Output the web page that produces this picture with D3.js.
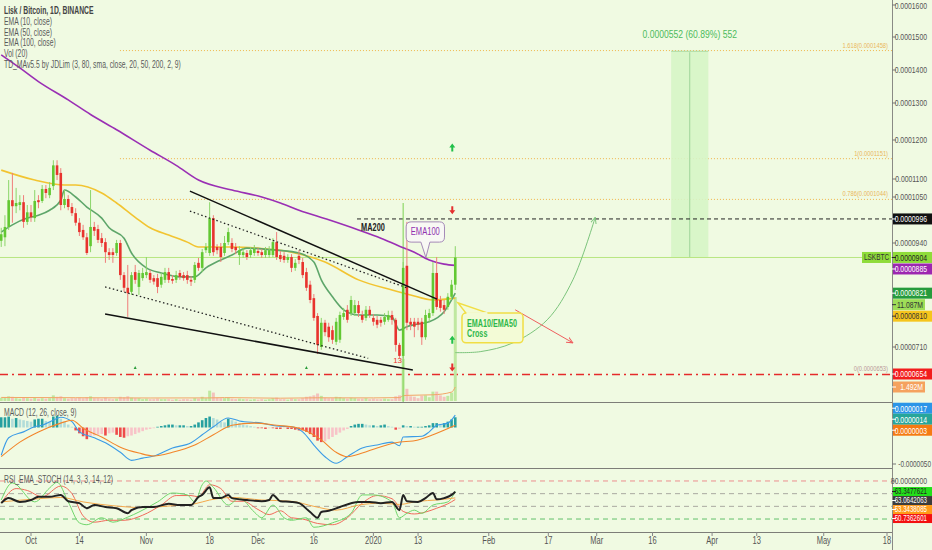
<!DOCTYPE html>
<html>
<head>
<meta charset="utf-8">
<script src="https://cdn.jsdelivr.net/npm/d3@7"></script>
<style>
	html, body { margin:0; padding:0; background:#f0fae2; }
	svg { display:block; font-family:"Liberation Sans",Arial,sans-serif; }
</style>
</head>
<body>
<svg id="chart" width="932" height="550"></svg>
<script>
// daily LSK/BTC candles, prices in units of 1e-7 BTC, first candle 2019-09-23
var startDay = Date.UTC(2019, 8, 23);

var opens = [945,953,977,1042,1027,1030,1037,989,1012,998, 1042,1040,1072,1055,1080,1134,1115,1030,1045,1025,
	1010,987,970,953,932,977,972,951,942,917, 917,915,940,862,833,824,869,835,855,862,
	867,855,855,840,851,869,853,851,867,862, 862,851,851,891,879,922,915,998,930,930,
	915,942,940,930,910,910,915,910,915,920, 917,910,910,910,942,910,908,898,905,879,
	908,893,869,840,810,772,710,758,750,743, 720,724,770,785,778,778,795,774,768,785,
	768,764,764,760,764,774,764,714,691,884, 760,760,760,760,729,768,778,867,806,795,
	791,813,840];
var highs = [975,1005,1097,1115,1075,1055,1055,1030,1030,1069, 1055,1083,1083,1091,1147,1147,1127,1069,1055,1035,
	1022,998,982,963,1069,989,982,963,951,927, 927,947,947,869,886,869,886,874,879,905,
	874,862,865,867,879,879,862,872,874,869, 872,860,893,903,925,940,1037,1005,937,940,
	956,975,951,940,932,927,922,930,935,927, 925,930,932,951,965,920,917,912,912,900,
	922,903,879,849,819,778,768,764,758,752, 768,781,789,795,815,806,804,783,793,793,
	776,772,770,778,783,783,768,718,893,989, 768,768,768,768,785,787,893,905,815,806,
	821,851,932];
var lows = [930,932,970,987,1010,1017,975,982,989,989, 1022,1035,1047,1047,1069,1097,1017,1022,1017,1003,
	980,956,947,910,917,956,940,930,891,898, 891,908,851,824,770,817,842,817,849,855,
	844,840,821,833,844,844,842,844,851,849, 842,837,844,872,869,915,908,908,912,893,
	908,935,917,912,886,903,898,903,908,908, 903,903,903,905,898,893,891,891,869,872,
	888,855,826,799,762,695,704,731,720,716, 714,718,764,758,772,772,770,758,762,768,
	752,747,750,754,760,754,700,686,686,743, 743,729,743,714,724,760,772,785,781,776,
	785,806,828];
var closes = [960,977,1042,1027,1035,1037,989,1012,1000,1040, 1037,1072,1061,1075,1134,1110,1030,1045,1025,1010,
	987,965,953,915,977,968,947,940,917,910, 910,940,862,833,821,862,851,867,867,869,
	851,847,835,858,869,851,849,862,858,855, 851,847,886,879,917,930,998,917,922,905,
	940,965,925,922,922,917,905,922,925,915, 910,922,922,942,905,900,898,905,879,891,
	898,862,833,806,768,714,758,739,729,724, 760,774,778,764,806,795,778,764,785,774,
	760,754,758,770,774,764,714,691,879,758, 754,750,754,729,774,778,867,791,789,785,
	813,840,904];

// volume in millions of LSK
var volumes = [0.35,0.4,0.5,0.45,0.3,0.25,0.4,0.3,0.25,0.35, 0.25,0.3,0.25,0.3,0.6,0.45,0.5,0.3,0.25,0.3,
	0.3,0.35,0.3,0.4,0.5,0.3,0.3,0.25,0.35,0.25, 0.2,0.25,0.45,0.4,0.5,0.35,0.3,0.3,0.2,0.25,
	0.2,0.2,0.25,0.2,0.2,0.2,0.15,0.2,0.15,0.2, 0.2,0.15,0.3,0.25,0.45,0.3,1.1,0.9,0.35,0.3,
	0.3,0.35,0.25,0.2,0.25,0.2,0.2,0.15,0.2,0.15, 0.2,0.15,0.2,0.3,0.35,0.2,0.2,0.15,0.25,0.2,
	0.2,0.3,0.45,0.5,0.6,0.8,0.55,0.35,0.3,0.3, 0.45,0.4,0.3,0.25,0.35,0.3,0.25,0.25,0.3,0.2,
	0.25,0.2,0.2,0.25,0.2,0.2,0.5,0.6,4.5,1.3, 0.5,0.45,0.3,0.55,0.6,0.4,1.0,1.0,0.6,0.45,
	0.55,0.9,11.087];
var volMaDays = [0,20,40,56,60,75,85,100,107,108,109,116,121,122];
var volMaValues = [0.38,0.35,0.32,0.33,0.36,0.3,0.34,0.33,0.36,0.56,0.6,0.66,0.95,1.492];

// moving averages
var ema10Days = [0,3,7,10,13,16,17,20,23,27,29,33,35,39,43,48,52,55,59,62,66,74,80,84,86,89,92,96,101,105,107,109,111,115,119,122];
var ema10Values = [965,982,998,1005,1017,1042,1069,1050,1025,998,975,951,915,879,867,858,858,879,898,910,927,922,915,893,851,813,785,774,774,770,743,750,754,760,781,821];
var ema50Days = [0,9,17,20,27,31,36,40,45,50,53,62,69,78,87,96,105,110,116,122];
var ema50Values = [1122,1097,1083,1083,1061,1035,1000,975,958,942,930,930,927,917,893,851,828,817,806,810];
var ema100Days = [0,5,10,18,24,31,40,47,53,62,70,75,80,88,96,102,107,111,115,119,122];
var ema100Values = [1445,1406,1364,1309,1268,1227,1173,1134,1097,1069,1050,1035,1017,994,970,951,932,917,898,888,885];

// MACD (units of 1e-7)
var macdDays = [0,2,6,9,11,14,16,19,21,25,28,32,35,38,41,46,51,54,57,61,64,70,74,78,81,84,87,90,93,97,101,105,107,108,113,115,117,120,122];
var macdValues = [-38,-14,-6,1,3,10,14,8,-6,-14,-21,-34,-45,-42,-39,-28,-21,-10,1,13,9,6,2,1,-6,-24,-40,-49,-40,-28,-24,-20,-25,-13,-12,-6,3,6,17];
var signalDays = [0,5,10,16,19,22,27,32,37,41,46,52,57,62,68,74,80,86,90,93,97,101,106,112,116,122];
var signalValues = [-40,-20,-6,6,10,-1,-13,-27,-35,-39,-34,-24,-10,3,6,3,-1,-17,-34,-40,-35,-28,-21,-17,-10,3];
var macdHist = [14,14,15,12,13,11,10,9,8,11, 12,12,9,8,15,16,12,8,4,1,
	-4,-8,-12,-16,-12,-11,-10,-9,-11,-8, -7,-10,-13,-14,-12,-11,-9,-7,-5,-3,
	-2,-1,1,2,3,4,4,3,3,3, 2,2,4,7,10,13,15,13,11,8,
	7,12,10,8,6,4,3,2,1,-1, -1,-2,-1,-1,-2,-2,-1,-2,-2,-3,
	-4,-4,-6,-9,-13,-18,-20,-19,-16,-13, -10,-7,-4,-2,2,4,5,5,4,3,
	3,2,3,4,2,1,-3,-2,3,2, 2,1,1,1,2,3,6,6,5,6,
	8,11,14];

// RSI_EMA_STOCH
var rsiDays = [0,2,5,8,10,13,16,18,21,23,25,28,31,34,35,38,41,45,48,51,53,54,56,57,59,61,62,66,70,72,73,75,78,80,83,85,86,88,91,94,96,99,102,105,107,108,109,112,114,116,117,119,121,122];
var rsiValues = [45,53,47,50,55,55,58,48,45,37,42,39,37,29,34,39,39,44,42,42,55,58,70,53,53,58,53,50,48,50,58,48,47,45,31,22,31,33,39,45,47,47,45,47,34,58,48,47,53,61,51,53,58,63.0642063];
var kDays = [0,3,9,13,15,18,21,23,27,30,34,37,42,46,50,52,54,55,57,61,64,68,70,73,76,78,82,84,89,94,97,100,105,107,109,111,113,116,120,122];
var kValues = [50,77,47,69,78,47,14,11,22,15,23,31,47,61,58,47,74,80,70,42,53,31,22,42,22,18,22,7,14,29,58,58,47,22,29,34,29,42,47,63.3477621];
var dDays = [0,4,7,11,16,19,22,25,29,33,38,43,47,51,53,56,59,62,65,69,72,75,78,81,85,89,93,97,101,105,108,111,114,117,120,122];
var dValues = [45,68,65,55,72,60,25,15,18,18,26,42,57,57,55,74,68,48,48,35,27,33,22,20,13,11,22,45,57,52,32,28,31,37,44,50.7362601];
var rsiEmaDays = [0,10,16,22,30,38,46,52,56,62,70,78,84,90,96,102,107,112,117,122];
var rsiEmaValues = [47,52,54,47,41,38,41,44,50,54,50,48,40,34,42,45,43,48,50,53.3438085];
var rsiLevels = [80,60,40,20];

// axes
var priceTicks = [1600,1500,1400,1300,1200,1100,1050,940,710];
var timeTickDates = ["2019-10-01","2019-10-14","2019-11-01","2019-11-18","2019-12-01","2019-12-16","2020-01-01","2020-01-13",
	"2020-02-01","2020-02-17","2020-03-01","2020-03-16","2020-04-01","2020-04-13","2020-05-01","2020-05-18"];
var timeTickLabels = ["Oct","14","Nov","18","Dec","16","2020","13","Feb","17","Mar","16","Apr","13","May","18"];

// drawings (day index from first candle, price)
var fibRatios = ["1.618","1","0.786","0"];
var fibPrices = [1458,1151,1044,653];
var fibStartDay = 31.9;
var resistancePrice = 996, resistanceStartDay = 95.6;
var wedgeUpper = [[50.7,1066],[117.1,808]];
var wedgeLower = [[27.9,776],[110.6,662]];
var channelUpper = [[50.7,1015],[109,833]];
var channelLower = [[27.9,835],[98.6,686]];
var targetDays = [180,190], targetPrices = [904,1456];
var targetText = "0.0000552 (60.89%) 552";
var bullPath = [[122,698],[128.7,700],[137.5,718],[146.7,764],[153.6,851],[159.6,1000]];
var bearPath = [[138.1,785],[153.6,718]];
var crossBoxDays = [123.8,140.2], crossBoxPrices = [778,718], crossTip = [122.7,800];
var emaBoxDays = [108.8,119.1], emaBoxPrices = [989,942], emaTip = [114.1,904];
var ma200Label = [96.7,975];
var breakoutDay = 108, breakoutTop = 1035;
var tdArrowPrices = [1180,1017,724,667];
var tdArrowUp = [true,false,true,false];
var setupMarkDays = [36,82], setupMarkPrice = 665;
var countLabel = [106.5,682,"13"];

var priceLabelValues = [996,904,885,821,810,654];
var volLabelValues = [11.087,1.492];
var macdLabelValues = [17,14,3];
var rsiLabelValues = [63.3477621,63.0642063,53.3438085,50.7362601];

var legendLines = ["Lisk / Bitcoin, 1D, BINANCE","EMA (10, close)","EMA (50, close)","EMA (100, close)","Vol (20)",
	"TD_MAv5.5 by JDLim (3, 80, sma, close, 20, 50, 200, 2, 9)"];

(function ()
{
	var svg = d3.select("#chart");
	var axisX = 892;
	var labelRight = 927;
	var bg = "#f0fae2";

	// the TradingView font is much narrower than anything installed
	var condense = function(sel, f)
	{
		sel.each(function()
		{
			var w = this.getComputedTextLength();
			d3.select(this).attr("textLength", w * f).attr("lengthAdjust","spacingAndGlyphs");
		});
	};

	var dayDate = function(i)
	{
		return new Date(startDay + i * 864e5);
	};

	var x = d3.scaleUtc()
		.domain([new Date(Date.UTC(2019,9,1)), new Date(Date.UTC(2020,4,18))])
		.range([31, 887]);
	var xi = function(i) { return x(dayDate(i)); };

	var y = d3.scaleLog()
		.domain([600,654,710,940,1050,1100,1200,1300,1400,1500,1600])
		.range([398,374,347,243,197,179,140,103,70,37,5]);
	var yVol = d3.scaleLinear().domain([0, 11.087]).range([401, 297]);
	var yMacd = d3.scaleLinear().domain([-50, 20]).range([464, 412.9]);
	var yRsi = d3.scaleLinear().domain([0, 100]).range([531.7, 468.3]);

	var fmt = function(v) { return (v * 1e-7).toFixed(7); };

	svg.append("rect").attr("width",932).attr("height",550).attr("fill",bg);

	var defs = svg.append("defs");
	defs.append("clipPath").attr("id","mainClip").append("rect").attr("x",0).attr("y",0).attr("width",axisX).attr("height",402);
	defs.append("clipPath").attr("id","macdClip").append("rect").attr("x",0).attr("y",403).attr("width",axisX).attr("height",65);
	defs.append("clipPath").attr("id","rsiClip").append("rect").attr("x",0).attr("y",469).attr("width",axisX).attr("height",63);
	[["headGreen","#7cc47c"],["headRed","#ef5f5f"]].forEach(function(m)
	{
		defs.append("marker")
			.attr("id",m[0])
			.attr("viewBox","0 0 10 10")
			.attr("refX",9).attr("refY",5)
			.attr("markerWidth",7).attr("markerHeight",7)
			.attr("orient","auto")
			.append("path")
			.attr("d","M0,1 L9,5 L0,9")
			.attr("fill","none")
			.attr("stroke",m[1])
			.attr("stroke-width",1.4);
	});

	var main = svg.append("g").attr("clip-path","url(#mainClip)");

	// fib levels
	main.selectAll("line.fib").data(fibPrices.slice(0,3)).enter().append("line").classed("fib",1)
		.attr("x1",xi(fibStartDay)).attr("x2",axisX)
		.attr("y1",function(d) { return y(d); }).attr("y2",function(d) { return y(d); })
		.attr("stroke","#efb54a").attr("stroke-width",1).attr("stroke-dasharray","1,2");
	var fibText = main.selectAll("text.fib").data(fibPrices).enter().append("text").classed("fib",1)
		.text(function(d,i) { return fibRatios[i] + "(" + fmt(d) + ")"; })
		.attr("x",888).attr("y",function(d) { return y(d) - 3; })
		.attr("text-anchor","end")
		.attr("font-size","8px")
		.attr("fill",function(d,i) { return i === 3 ? "#b99" : "#eab65a"; });
	condense(fibText, 0.72);

	// target measure box
	main.append("rect")
		.attr("x",xi(targetDays[0])).attr("width",xi(targetDays[1]) - xi(targetDays[0]))
		.attr("y",y(targetPrices[1])).attr("height",y(targetPrices[0]) - y(targetPrices[1]))
		.attr("fill","#d6f5c6").attr("opacity",0.9);
	main.append("line")
		.attr("x1",xi(targetDays[0])).attr("x2",xi(targetDays[1]))
		.attr("y1",y(targetPrices[1])).attr("y2",y(targetPrices[1]))
		.attr("stroke","#a9d9a0");
	main.append("line")
		.attr("x1",xi((targetDays[0] + targetDays[1]) / 2)).attr("x2",xi((targetDays[0] + targetDays[1]) / 2))
		.attr("y1",y(targetPrices[0])).attr("y2",y(targetPrices[1]) + 1)
		.attr("stroke","#9fd49a").attr("stroke-width",1);
	condense(main.append("text")
		.text(targetText)
		.attr("x",xi((targetDays[0] + targetDays[1]) / 2)).attr("y",y(targetPrices[1]) - 13)
		.attr("text-anchor","middle")
		.attr("font-size","11px")
		.attr("fill","#4cba5c"), 0.78);

	// last price, resistance and support lines
	main.append("line")
		.attr("x1",0).attr("x2",axisX)
		.attr("y1",y(closes[closes.length - 1])).attr("y2",y(closes[closes.length - 1]))
		.attr("stroke","#b8e680").attr("stroke-width",1);
	main.append("line")
		.attr("x1",xi(resistanceStartDay)).attr("x2",axisX)
		.attr("y1",y(resistancePrice)).attr("y2",y(resistancePrice))
		.attr("stroke","#222").attr("stroke-dasharray","4,3");
	main.append("line")
		.attr("x1",0).attr("x2",axisX)
		.attr("y1",y(fibPrices[3])).attr("y2",y(fibPrices[3]))
		.attr("stroke","#e52b2b").attr("stroke-width",1.6).attr("stroke-dasharray","8,4,2,4");

	// volume
	main.selectAll("rect.vol").data(volumes).enter().append("rect").classed("vol",1)
		.attr("x",function(d,i) { return xi(i) - 1.5; })
		.attr("width",3)
		.attr("y",function(d) { return yVol(d); })
		.attr("height",function(d) { return yVol(0) - yVol(d); })
		.attr("fill",function(d,i) { return closes[i] >= opens[i] ? "#bfe8a0" : "#f4c2bd"; });
	main.append("path")
		.datum(volMaDays)
		.attr("d",d3.line().x(function(d) { return xi(d); }).y(function(d,i) { return yVol(volMaValues[i]); }).curve(d3.curveMonotoneX))
		.attr("fill","none").attr("stroke","#f3a566").attr("stroke-width",1);

	// breakout marker line
	main.append("line")
		.attr("x1",xi(breakoutDay)).attr("x2",xi(breakoutDay))
		.attr("y1",y(breakoutTop)).attr("y2",402)
		.attr("stroke","#8fd86a").attr("stroke-width",1.2);

	// moving averages
	var maLine = function(days, values)
	{
		return d3.line()
			.x(function(d) { return xi(d); })
			.y(function(d,i) { return y(values[i]); })
			.curve(d3.curveMonotoneX)(days);
	};
	[[ema100Days,ema100Values,"#9a2fb4"],[ema50Days,ema50Values,"#f2c431"],[ema10Days,ema10Values,"#5ea66a"]].forEach(function(m)
	{
		main.append("path")
			.attr("d",maLine(m[0],m[1]))
			.attr("fill","none").attr("stroke",m[2]).attr("stroke-width",1.6);
	});

	// candles
	var candles = main.selectAll("g.candle").data(closes).enter().append("g").classed("candle",1);
	candles.append("line")
		.attr("x1",function(d,i) { return xi(i); }).attr("x2",function(d,i) { return xi(i); })
		.attr("y1",function(d,i) { return y(highs[i]); }).attr("y2",function(d,i) { return y(lows[i]); })
		.attr("stroke",function(d,i) { return d >= opens[i] ? "#8bd56a" : "#f07d7a"; })
		.attr("stroke-width",1);
	candles.append("rect")
		.attr("x",function(d,i) { return xi(i) - 1.3; })
		.attr("width",2.6)
		.attr("y",function(d,i) { return Math.min(y(opens[i]), y(d)); })
		.attr("height",function(d,i) { return Math.max(1, Math.abs(y(opens[i]) - y(d))); })
		.attr("fill",function(d,i) { return d >= opens[i] ? "#62c832" : "#e8332e"; });

	// wedge and channel
	var seg = function(pts) { return d3.line().x(function(d) { return xi(d[0]); }).y(function(d) { return y(d[1]); })(pts); };
	[wedgeUpper, wedgeLower].forEach(function(p)
	{
		main.append("path").attr("d",seg(p)).attr("stroke","#111").attr("stroke-width",1.5).attr("fill","none");
	});
	[channelUpper, channelLower].forEach(function(p)
	{
		main.append("path").attr("d",seg(p)).attr("stroke","#222").attr("stroke-width",1.3).attr("stroke-dasharray","1.5,2.5").attr("fill","none");
	});

	// projection arrows
	main.append("path")
		.attr("d",d3.line().x(function(d) { return xi(d[0]); }).y(function(d) { return y(d[1]); }).curve(d3.curveCatmullRom)(bullPath))
		.attr("fill","none").attr("stroke","#7cc47c").attr("stroke-width",1)
		.attr("marker-end","url(#headGreen)");
	main.append("path")
		.attr("d",seg(bearPath))
		.attr("fill","none").attr("stroke","#ef5f5f").attr("stroke-width",1)
		.attr("marker-end","url(#headRed)");

	// EMA10/EMA50 cross callout
	var cx0 = xi(crossBoxDays[0]), cx1 = xi(crossBoxDays[1]), cy0 = y(crossBoxPrices[0]), cy1 = y(crossBoxPrices[1]);
	main.append("path")
		.attr("d","M" + (cx0 + 4) + "," + cy0 + " L" + xi(crossTip[0]) + "," + y(crossTip[1]) + " L" + (cx0 + 26) + "," + cy0)
		.attr("fill","#f3fbd6").attr("stroke","#f1de45").attr("stroke-width",1.5);
	main.append("rect")
		.attr("x",cx0).attr("y",cy0).attr("width",cx1 - cx0).attr("height",cy1 - cy0)
		.attr("rx",4)
		.attr("fill","#f3fbd6").attr("stroke","#f1de45").attr("stroke-width",1.5);
	main.append("rect")
		.attr("x",cx0 + 4.5).attr("y",cy0 - 1).attr("width",21).attr("height",3)
		.attr("fill","#f3fbd6");
	condense(main.append("text").text("EMA10/EMA50")
		.attr("x",cx0 + 5).attr("y",cy0 + 14)
		.attr("font-size","10px").attr("font-weight","bold").attr("fill","#2fb84a"), 0.72);
	condense(main.append("text").text("Cross")
		.attr("x",cx0 + 5).attr("y",cy0 + 24)
		.attr("font-size","10px").attr("font-weight","bold").attr("fill","#2fb84a"), 0.72);

	// EMA100 callout
	var ex0 = xi(emaBoxDays[0]), ex1 = xi(emaBoxDays[1]), ey0 = y(emaBoxPrices[0]), ey1 = y(emaBoxPrices[1]);
	var etx = xi(emaTip[0]), ety = y(emaTip[1]), r = 5;
	main.append("path")
		.attr("d","M" + (ex0 + r) + "," + ey0 + " H" + (ex1 - r) + " Q" + ex1 + "," + ey0 + " " + ex1 + "," + (ey0 + r)
			+ " V" + (ey1 - r) + " Q" + ex1 + "," + ey1 + " " + (ex1 - r) + "," + ey1
			+ " H" + (etx + 4) + " L" + etx + "," + ety + " L" + (etx - 5) + "," + ey1
			+ " H" + (ex0 + r) + " Q" + ex0 + "," + ey1 + " " + ex0 + "," + (ey1 - r)
			+ " V" + (ey0 + r) + " Q" + ex0 + "," + ey0 + " " + (ex0 + r) + "," + ey0 + " Z")
		.attr("fill","#f8f8f4").attr("stroke","#a58ab8").attr("stroke-width",1);
	condense(main.append("text").text("EMA100")
		.attr("x",(ex0 + ex1) / 2).attr("y",(ey0 + ey1) / 2 + 3.5)
		.attr("text-anchor","middle")
		.attr("font-size","10.5px").attr("fill","#9130b0"), 0.72);

	condense(main.append("text").text("MA200")
		.attr("x",xi(ma200Label[0])).attr("y",y(ma200Label[1]) + 3.5)
		.attr("font-size","10.5px").attr("font-weight","bold").attr("fill","#222"), 0.7);

	// TD arrows on the last candle
	var lastDay = closes.length - 1;
	tdArrowPrices.forEach(function(p,k)
	{
		var ax = xi(lastDay) - 3, ay = y(p), s = tdArrowUp[k] ? -1 : 1;
		main.append("path")
			.attr("d","M" + ax + "," + (ay + 4 * s) + " L" + (ax - 3) + "," + ay + " L" + (ax - 1) + "," + ay
				+ " L" + (ax - 1) + "," + (ay - 4 * s) + " L" + (ax + 1) + "," + (ay - 4 * s)
				+ " L" + (ax + 1) + "," + ay + " L" + (ax + 3) + "," + ay + " Z")
			.attr("fill",tdArrowUp[k] ? "#22c04a" : "#e53030");
	});
	main.selectAll("path.setup").data(setupMarkDays).enter().append("path").classed("setup",1)
		.attr("d",function(d) { var px = xi(d), py = y(setupMarkPrice) - 1; return "M" + (px - 1.5) + "," + (py + 1.5) + " L" + px + "," + (py - 1.5) + " L" + (px + 1.5) + "," + (py + 1.5) + " Z"; })
		.attr("fill","#2a9d3a");
	main.append("text").text(countLabel[2])
		.attr("x",xi(countLabel[0])).attr("y",y(countLabel[1]) + 3)
		.attr("text-anchor","middle")
		.attr("font-size","8px").attr("fill","#e33");

	// legend
	condense(svg.selectAll("text.legend").data(legendLines).enter().append("text").classed("legend",1)
		.text(function(d) { return d; })
		.attr("x",4)
		.attr("y",function(d,i) { return 14 + i * 10.8; })
		.attr("font-size","10px")
		.attr("font-weight",function(d,i) { return i === 0 ? "bold" : "normal"; })
		.attr("fill",function(d,i) { return i === 0 ? "#444" : "#5a5a5a"; }), 0.68);

	// MACD pane
	var macd = svg.append("g").attr("clip-path","url(#macdClip)");
	macd.selectAll("rect.hist").data(macdHist).enter().append("rect").classed("hist",1)
		.attr("x",function(d,i) { return xi(i) - 1.3; })
		.attr("width",2.6)
		.attr("y",function(d) { return Math.min(yMacd(d), yMacd(0)); })
		.attr("height",function(d) { return Math.abs(yMacd(d) - yMacd(0)); })
		.attr("fill",function(d,i)
		{
			var prev = i > 0 ? macdHist[i - 1] : d;
			if (d >= 0) return d >= prev ? "#26a0a0" : "#b2dcd9";
			return d <= prev ? "#ef4a4a" : "#f8c3c8";
		});
	[[macdDays,macdValues,"#3a9be6"],[signalDays,signalValues,"#f2852a"]].forEach(function(m)
	{
		macd.append("path")
			.attr("d",d3.line().x(function(d) { return xi(d); }).y(function(d,i) { return yMacd(m[1][i]); }).curve(d3.curveMonotoneX)(m[0]))
			.attr("fill","none").attr("stroke",m[2]).attr("stroke-width",1.1);
	});
	condense(svg.append("text").text("MACD (12, 26, close, 9)")
		.attr("x",4).attr("y",416).attr("font-size","10px").attr("fill","#5a5a5a"), 0.68);

	// RSI pane
	var rsi = svg.append("g").attr("clip-path","url(#rsiClip)");
	rsi.selectAll("line.level").data(rsiLevels).enter().append("line").classed("level",1)
		.attr("x1",0).attr("x2",axisX)
		.attr("y1",function(d) { return yRsi(d); }).attr("y2",function(d) { return yRsi(d); })
		.attr("stroke",function(d) { return d === 80 ? "#ec8f8f" : d === 20 ? "#62c06a" : "#a9a9a0"; })
		.attr("stroke-width",1).attr("stroke-dasharray","5,4");
	[[dDays,dValues,"#f06a5a",1],[kDays,kValues,"#6fd66a",1],[rsiEmaDays,rsiEmaValues,"#f5a84a",1],[rsiDays,rsiValues,"#222",2]].forEach(function(m)
	{
		rsi.append("path")
			.attr("d",d3.line().x(function(d) { return xi(d); }).y(function(d,i) { return yRsi(m[1][i]); }).curve(d3.curveMonotoneX)(m[0]))
			.attr("fill","none").attr("stroke",m[2]).attr("stroke-width",m[3]);
	});
	condense(svg.append("text").text("RSI_EMA_STOCH (14, 3, 3, 14, 12)")
		.attr("x",4).attr("y",483).attr("font-size","10px").attr("fill","#5a5a5a"), 0.68);

	// pane borders and price axis
	[402.5, 468.5, 532.5].forEach(function(py)
	{
		svg.append("line").attr("x1",0).attr("x2",axisX).attr("y1",py).attr("y2",py).attr("stroke","#7d7d78").attr("stroke-width",1);
	});
	svg.append("line").attr("x1",axisX + 0.5).attr("x2",axisX + 0.5).attr("y1",0).attr("y2",550).attr("stroke","#8a8a85");

	var axisG = svg.append("g");
	var tickRows = priceTicks.map(function(v) { return {y: y(v), text: fmt(v)}; })
		.concat([{y: yMacd(-50), text: fmt(-50)}, {y: yRsi(80), text: "80.0000000"}]);
	axisG.selectAll("g.tick").data(tickRows).enter().append("g").classed("tick",1)
		.each(function(d)
		{
			var g = d3.select(this);
			var neg = d.text.charAt(0) === "-";
			g.append("line").attr("x1",axisX).attr("x2",axisX + 4).attr("y1",d.y).attr("y2",d.y).attr("stroke","#777");
			condense(g.append("text").text(d.text)
				.attr("x",neg ? 931 : labelRight).attr("text-anchor","end")
				.attr("y",Math.max(d.y + 3.3, 9)).attr("font-size","9.5px").attr("fill","#555"), neg ? 0.68 : 0.72);
		});

	var spreadDown = function(list, gap)
	{
		list.sort(function(a,b) { return a.y - b.y; });
		for (var k = 1; k < list.length; k++)
		{
			if (list[k].y < list[k - 1].y + gap) list[k].y = list[k - 1].y + gap;
		}
		return list;
	};
	var spreadMiddle = function(list, gap)
	{
		list.sort(function(a,b) { return a.y - b.y; });
		for (var n = 0; n < 60; n++)
		{
			for (var k = 1; k < list.length; k++)
			{
				var over = gap - (list[k].y - list[k - 1].y);
				if (over > 0) { list[k - 1].y -= over / 2; list[k].y += over / 2; }
			}
		}
		return list;
	};

	var priceColors = [["#111","#fff"],["#8fdc3a","#222"],["#9c27b0","#fff"],["#269b3c","#fff"],["#f6c51c","#333"],["#f21d1d","#fff"]];
	var volColors = [["#9ede58","#333"],["#f5a25e","#fff"]];
	var mainBoxes = priceLabelValues.map(function(v,k) { return {y: y(v), h: 11, text: fmt(v), bg: priceColors[k][0], fg: priceColors[k][1]}; })
		.concat(volLabelValues.map(function(v,k) { return {y: yVol(v), h: 11, text: v.toFixed(3) + "M", bg: volColors[k][0], fg: volColors[k][1], small: true}; }));
	var macdColors = [["#2b95e8","#fff"],["#26a69a","#fff"],["#f57a12","#fff"]];
	var macdBoxes = macdLabelValues.map(function(v,k) { return {y: yMacd(v), h: 11, text: fmt(v), bg: macdColors[k][0], fg: macdColors[k][1]}; });
	var rsiColors = [["#22e01a","#222"],["#3c3c3c","#fff"],["#ff9a1a","#fff"],["#f31010","#fff"]];
	var rsiBoxes = rsiLabelValues.map(function(v,k) { return {y: yRsi(v), h: 9, text: v.toFixed(7), bg: rsiColors[k][0], fg: rsiColors[k][1]}; });

	var boxes = spreadDown(mainBoxes, 11.5).concat(spreadMiddle(macdBoxes, 11)).concat(spreadDown(rsiBoxes, 9));
	var bx = axisG.selectAll("g.box").data(boxes).enter().append("g").classed("box",1);
	bx.append("rect")
		.attr("x",axisX + 1).attr("y",function(d) { return d.y - d.h / 2; })
		.attr("width",function(d) { return d.small ? 32 : 39; }).attr("height",function(d) { return d.h; })
		.attr("fill",function(d) { return d.bg; });
	bx.append("line")
		.attr("x1",axisX).attr("x2",axisX + 4)
		.attr("y1",function(d) { return d.y; }).attr("y2",function(d) { return d.y; })
		.attr("stroke",function(d) { return d.fg; });
	condense(bx.append("text")
		.text(function(d) { return d.text; })
		.attr("x",function(d) { return d.small ? axisX + 31 : labelRight; })
		.attr("text-anchor","end")
		.attr("y",function(d) { return d.y + d.h * 0.3; })
		.attr("font-size",function(d) { return d.h < 10 ? "8.5px" : "9.5px"; })
		.attr("fill",function(d) { return d.fg; }), 0.72);

	var lastY = mainBoxes.filter(function(d) { return d.text === fmt(closes[lastDay]); })[0].y;
	axisG.append("rect").attr("x",axisX - 30).attr("y",lastY - 5.5).attr("width",29).attr("height",11).attr("fill","#8fdc3a");
	condense(axisG.append("text").text("LSKBTC").attr("x",axisX - 15.5).attr("y",lastY + 3)
		.attr("text-anchor","middle").attr("font-size","9px").attr("fill","#333"), 0.72);

	// time axis
	var tg = svg.append("g");
	tg.selectAll("g.t").data(timeTickDates).enter().append("g").classed("t",1)
		.each(function(d,i)
		{
			var px = x(new Date(d + "T00:00:00Z"));
			var g = d3.select(this);
			g.append("line").attr("x1",px).attr("x2",px).attr("y1",532).attr("y2",536).attr("stroke","#888");
			condense(g.append("text").text(timeTickLabels[i]).attr("x",px).attr("y",544)
				.attr("text-anchor","middle").attr("font-size","10px").attr("fill","#555"), 0.75);
		});
})();
</script>
</body>
</html>
